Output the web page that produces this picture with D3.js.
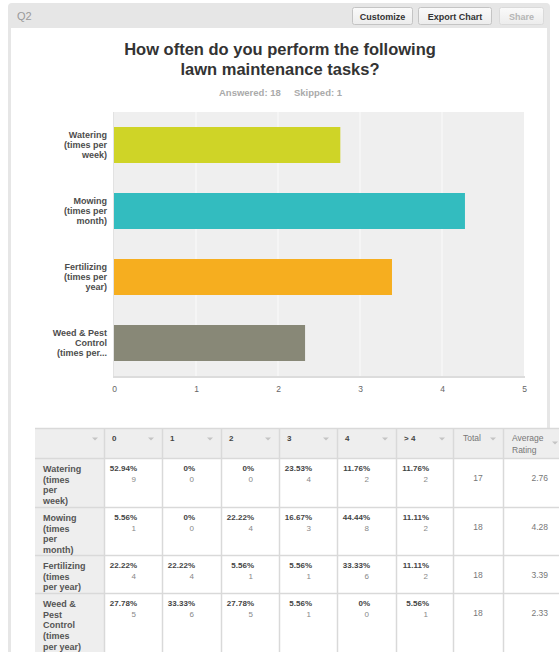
<!DOCTYPE html>
<html>
<head>
<meta charset="utf-8">
<script src="https://cdn.jsdelivr.net/npm/d3@7"></script>
<style>
  html, body { margin: 0; padding: 0; background: #ffffff; }
  svg { display: block; font-family: "Liberation Sans", Arial, sans-serif; }
</style>
</head>
<body>
<svg id="chart" width="559" height="652"></svg>
<script>
// Question text and response summary
const questionId = "Q2";
const titleLines = ["How often do you perform the following", "lawn maintenance tasks?"];
const answeredCount = 18;
const skippedCount = 1;

// Rows: task labels (wrapped as shown on the chart axis and in the table)
const tasks = ["Watering", "Mowing", "Fertilizing", "Weed & Pest Control"];
const axisLabels = [
  ["Watering", "(times per", "week)"],
  ["Mowing", "(times per", "month)"],
  ["Fertilizing", "(times per", "year)"],
  ["Weed & Pest", "Control", "(times per..."]
];
const tableLabels = [
  ["Watering", "(times", "per", "week)"],
  ["Mowing", "(times", "per", "month)"],
  ["Fertilizing", "(times", "per year)"],
  ["Weed &", "Pest", "Control", "(times", "per year)"]
];
const taskColors = ["#cfd427", "#33bcbf", "#f6ae1f", "#888877"];

// Average rating per task (bar lengths)
const averageRatings = [2.76, 4.28, 3.39, 2.33];
const xTicks = [0, 1, 2, 3, 4, 5];

// Answer choices and per-choice results
const choices = ["0", "1", "2", "3", "4", "> 4"];
const percentWatering    = ["52.94%", "0%", "0%", "23.53%", "11.76%", "11.76%"];
const percentMowing      = ["5.56%", "0%", "22.22%", "16.67%", "44.44%", "11.11%"];
const percentFertilizing = ["22.22%", "22.22%", "5.56%", "5.56%", "33.33%", "11.11%"];
const percentWeed        = ["27.78%", "33.33%", "27.78%", "5.56%", "0%", "5.56%"];
const countWatering    = [9, 0, 0, 4, 2, 2];
const countMowing      = [1, 0, 4, 3, 8, 2];
const countFertilizing = [4, 4, 1, 1, 6, 2];
const countWeed        = [5, 6, 5, 1, 0, 1];
const totals = [17, 18, 18, 18];

const percents = [percentWatering, percentMowing, percentFertilizing, percentWeed];
const counts = [countWatering, countMowing, countFertilizing, countWeed];

const svg = d3.select("#chart");

// ---------- panel frame ----------
svg.append("rect").attr("x", 8).attr("y", 3).attr("width", 542).attr("height", 700)
  .attr("rx", 4).attr("fill", "#e6e6e6");
svg.append("rect").attr("x", 11).attr("y", 28).attr("width", 536).attr("height", 700)
  .attr("fill", "#ffffff");

svg.append("text").attr("x", 17).attr("y", 19.5)
  .attr("font-size", 11).attr("fill", "#9a9a9a").text(questionId);

// Header buttons
const buttons = [
  { label: "Customize", x: 352, w: 60, color: "#333" },
  { label: "Export Chart", x: 418, w: 73, color: "#333" },
  { label: "Share", x: 499, w: 44, color: "#b5b5b5" }
];
const grad = svg.append("defs").append("linearGradient").attr("id", "btn")
  .attr("x1", 0).attr("y1", 0).attr("x2", 0).attr("y2", 1);
grad.append("stop").attr("offset", "0%").attr("stop-color", "#fafafa");
grad.append("stop").attr("offset", "100%").attr("stop-color", "#ececec");
const btn = svg.selectAll("g.btn").data(buttons).join("g").attr("class", "btn");
btn.append("rect").attr("x", d => d.x + 0.5).attr("y", 7.5).attr("width", d => d.w).attr("height", 17)
  .attr("rx", 2).attr("fill", "url(#btn)").attr("stroke", d => d.label === "Share" ? "#dadada" : "#c4c4c4");
btn.append("text").attr("x", d => d.x + d.w / 2 + 0.5).attr("y", 19.5)
  .attr("text-anchor", "middle").attr("font-size", 9).attr("font-weight", "bold")
  .attr("fill", d => d.color).text(d => d.label);

// ---------- title ----------
svg.selectAll("text.title").data(titleLines).join("text").attr("class", "title")
  .attr("x", 280).attr("y", (d, i) => 55 + i * 20)
  .attr("text-anchor", "middle").attr("font-size", 16.5).attr("font-weight", "bold")
  .attr("fill", "#333").text(d => d);

const summary = svg.append("text").attr("y", 95.5).attr("font-size", 9.5)
  .attr("font-weight", "bold").attr("fill", "#aaa");
summary.append("tspan").attr("x", 219).text(`Answered: ${answeredCount}`);
summary.append("tspan").attr("x", 294).text(`Skipped: ${skippedCount}`);

// ---------- bar chart ----------
const x = d3.scaleLinear().domain([0, 5]).range([114, 524]);
const y = d3.scaleBand().domain(tasks).range([112, 376])
  .paddingInner(30 / 66).paddingOuter(15 / 66);

svg.append("rect").attr("x", x(0) - 1).attr("y", 112).attr("width", x(5) - x(0) + 1)
  .attr("height", 264).attr("fill", "#efefef");

// vertical grid
svg.selectAll("line.grid").data(xTicks.slice(1, -1)).join("line").attr("class", "grid")
  .attr("x1", d => x(d)).attr("x2", d => x(d)).attr("y1", 112).attr("y2", 376)
  .attr("stroke", "#f7f7f7").attr("stroke-width", 1.5);

// left edge and baseline of the plot
svg.append("line").attr("x1", x(0) - 0.5).attr("x2", x(0) - 0.5).attr("y1", 112).attr("y2", 377)
  .attr("stroke", "#e2e2e2").attr("stroke-width", 1);
svg.append("line").attr("x1", x(0) - 1).attr("x2", x(5) + 1).attr("y1", 377).attr("y2", 377)
  .attr("stroke", "#dcdcdc").attr("stroke-width", 2);

svg.selectAll("rect.bar").data(tasks).join("rect").attr("class", "bar")
  .attr("x", x(0)).attr("y", d => y(d))
  .attr("width", (d, i) => x(averageRatings[i]) - x(0))
  .attr("height", y.bandwidth())
  .attr("fill", (d, i) => taskColors[i]);

// x axis tick labels
const xAxis = d3.axisBottom(x).tickValues(xTicks).tickSize(0).tickPadding(0)
  .tickFormat(d3.format("d"));
const xg = svg.append("g").attr("transform", "translate(0,386)").call(xAxis);
xg.select(".domain").remove();
xg.selectAll("text").attr("font-family", "Liberation Sans, Arial, sans-serif")
  .attr("font-size", 8.5).attr("fill", "#666").attr("dy", "0.71em");

// category labels
svg.selectAll("text.cat").data(tasks).join("text").attr("class", "cat")
  .attr("text-anchor", "end").attr("font-size", 9).attr("font-weight", "bold").attr("fill", "#4d4d4d")
  .each(function (d, i) {
    const lines = axisLabels[i];
    const cy = y(d) + y.bandwidth() / 2;
    d3.select(this).selectAll("tspan").data(lines).join("tspan")
      .attr("x", 107).attr("y", (l, j) => cy + (j - (lines.length - 1) / 2) * 10 + 3.2)
      .text(l => l);
  });

// ---------- results table ----------
const colEdges = [35, 104, 162, 221, 279, 337, 396, 453, 503, 580];
const rowEdges = [428, 458, 507, 555, 593, 660];
const table = svg.append("g");

// backgrounds
table.append("rect").attr("x", colEdges[0]).attr("y", rowEdges[0])
  .attr("width", 559 - colEdges[0]).attr("height", rowEdges[1] - rowEdges[0]).attr("fill", "#eeeeee");
table.append("rect").attr("x", colEdges[0]).attr("y", rowEdges[1])
  .attr("width", colEdges[1] - colEdges[0]).attr("height", 660 - rowEdges[1]).attr("fill", "#eeeeee");
table.append("rect").attr("x", colEdges[1]).attr("y", rowEdges[1])
  .attr("width", 559 - colEdges[1]).attr("height", 660 - rowEdges[1]).attr("fill", "#ffffff");

// grid lines
table.selectAll("line.h").data(rowEdges.slice(0, 5)).join("line").attr("class", "h")
  .attr("x1", colEdges[0]).attr("x2", 559).attr("y1", d => d + 0.5).attr("y2", d => d + 0.5)
  .attr("stroke", "#d9d9d9").attr("stroke-width", 1.5);
table.selectAll("line.v").data(colEdges.slice(1, 9)).join("line").attr("class", "v")
  .attr("x1", d => d + 0.5).attr("x2", d => d + 0.5).attr("y1", rowEdges[0]).attr("y2", 660)
  .attr("stroke", "#d9d9d9").attr("stroke-width", 1.5);

// header cells
const caret = (cx, cy) => `M${cx - 3},${cy - 1.5}L${cx + 3},${cy - 1.5}L${cx},${cy + 1.5}Z`;
table.append("path").attr("d", caret(colEdges[1] - 9, 439)).attr("fill", "#c4c4c4");
choices.forEach((c, i) => {
  table.append("text").attr("x", colEdges[i + 1] + 8).attr("y", 441)
    .attr("font-size", 8).attr("font-weight", "bold").attr("fill", "#444").text(c);
  table.append("path").attr("d", caret(colEdges[i + 2] - 11, 439)).attr("fill", "#c4c4c4");
});
table.append("text").attr("x", 463).attr("y", 441).attr("font-size", 8.5)
  .attr("fill", "#777").text("Total");
table.append("path").attr("d", caret(colEdges[8] - 10, 439)).attr("fill", "#c4c4c4");
table.append("text").attr("x", 512).attr("y", 441).attr("font-size", 8.5)
  .attr("fill", "#777").text("Average");
table.append("text").attr("x", 512).attr("y", 453).attr("font-size", 8.5)
  .attr("fill", "#777").text("Rating");
table.append("path").attr("d", caret(555, 443)).attr("fill", "#c4c4c4");

// body rows
tasks.forEach((t, r) => {
  const top = rowEdges[r + 1];
  const lab = table.append("text").attr("font-size", 9).attr("font-weight", "bold").attr("fill", "#555");
  lab.selectAll("tspan").data(tableLabels[r]).join("tspan")
    .attr("x", 43).attr("y", (l, j) => top + 14 + j * 10.7).text(l => l);

  choices.forEach((c, k) => {
    const rx = colEdges[k + 1] + 33;
    table.append("text").attr("x", rx).attr("y", top + 13).attr("text-anchor", "end")
      .attr("font-size", 8).attr("font-weight", "bold").attr("fill", "#444").text(percents[r][k]);
    table.append("text").attr("x", rx - 1).attr("y", top + 24).attr("text-anchor", "end")
      .attr("font-size", 8).attr("fill", "#888").text(counts[r][k]);
  });

  table.append("text").attr("x", (colEdges[7] + colEdges[8]) / 2).attr("y", top + 23)
    .attr("text-anchor", "middle").attr("font-size", 8.5).attr("fill", "#777").text(totals[r]);
  table.append("text").attr("x", 548).attr("y", top + 23)
    .attr("text-anchor", "end").attr("font-size", 8.5).attr("fill", "#777")
    .text(averageRatings[r].toFixed(2));
});
</script>
</body>
</html>
